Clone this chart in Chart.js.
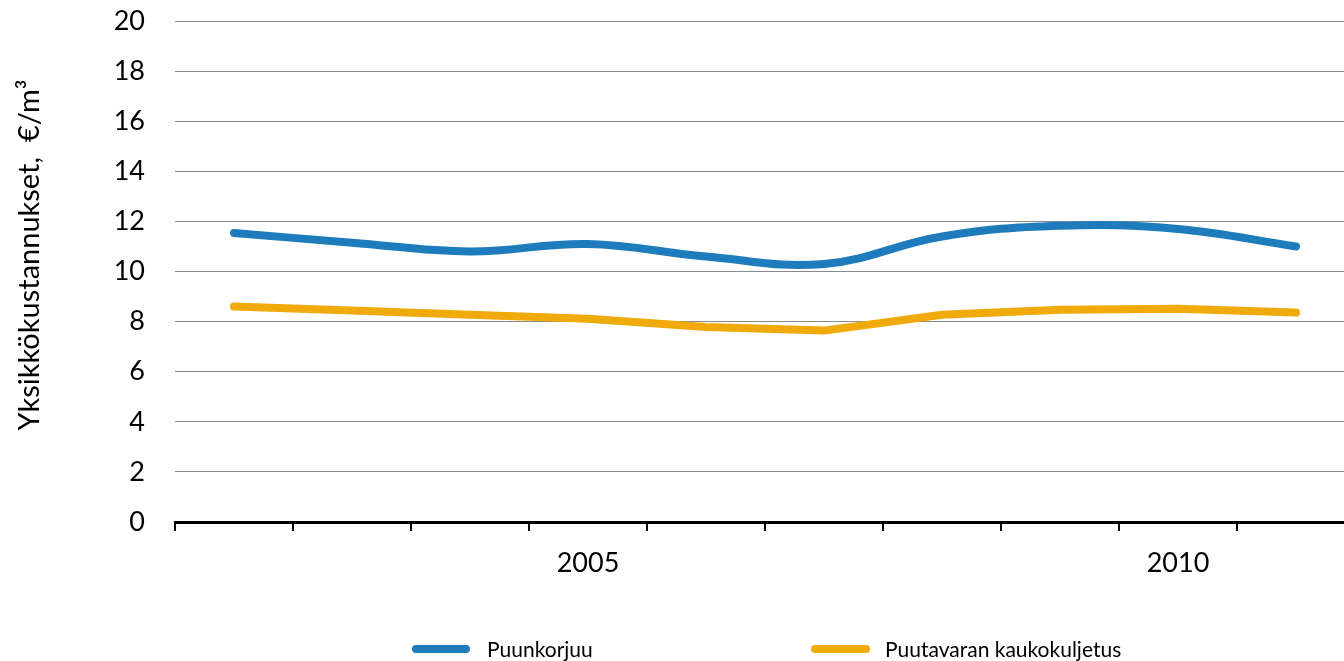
<!DOCTYPE html>
<html>
<head>
<meta charset="utf-8">
<script src="https://cdn.jsdelivr.net/npm/chart.js@4.4.1/dist/chart.umd.min.js"></script>
<style>
  html, body { margin: 0; padding: 0; background: #fff; overflow: hidden; }
  #wrap { width: 1355px; height: 661px; position: relative; }
</style>
</head>
<body>
<div id="wrap"><canvas id="c"></canvas></div>
<script>
const years = ['2002','2003','2004','2005','2006','2007','2008','2009','2010','2011'];
const shownYearLabels = ['2005','2010'];
const puunkorjuu = [11.54, 11.15, 10.80, 11.10, 10.60, 10.30, 11.40, 11.83, 11.70, 11.00];
const kaukokuljetus = [8.60, 8.44, 8.27, 8.11, 7.78, 7.64, 8.27, 8.47, 8.51, 8.36];
const seriesNames = ['Puunkorjuu', 'Puutavaran kaukokuljetus'];
const yTitle = 'Yksikkökustannukset,  €/m³';
const yTicks = { min: 0, max: 20, step: 2 };

const FONT = 'Lato, "Open Sans", sans-serif';
const BLUE = '#1E7CBC';
const ORANGE = '#F0AA0C';

const customDecor = {
  id: 'customDecor',
  afterDraw(chart) {
    const ctx = chart.ctx;
    // Y title
    ctx.save();
    ctx.translate(39, 255);
    ctx.rotate(-Math.PI / 2);
    ctx.fillStyle = '#000';
    ctx.font = '29px ' + FONT;
    ctx.textAlign = 'center';
    ctx.textBaseline = 'alphabetic';
    ctx.fillText(yTitle, 0, 0);
    ctx.restore();
    // Legend
    const items = [
      { x0: 412, x1: 470, tx: 487 },
      { x0: 811, x1: 870, tx: 885 }
    ];
    const ly = 649;
    chart.data.datasets.forEach((ds, i) => {
      const it = items[i];
      ctx.save();
      ctx.strokeStyle = ds.borderColor;
      ctx.lineWidth = 8;
      ctx.lineCap = 'round';
      ctx.beginPath();
      ctx.moveTo(it.x0 + 4, ly);
      ctx.lineTo(it.x1 - 4, ly);
      ctx.stroke();
      ctx.fillStyle = '#000';
      ctx.font = '21px ' + FONT;
      ctx.textAlign = 'left';
      ctx.textBaseline = 'middle';
      ctx.fillText(ds.label, it.tx, ly + 1);
      ctx.restore();
    });
  }
};

new Chart(document.getElementById('c'), {
  type: 'line',
  data: {
    labels: years,
    datasets: [
      {
        label: seriesNames[0],
        data: puunkorjuu,
        borderColor: BLUE,
        backgroundColor: BLUE,
        borderWidth: 8,
        tension: 0.4,
        pointRadius: 0,
        borderCapStyle: 'round',
        borderJoinStyle: 'round'
      },
      {
        label: seriesNames[1],
        data: kaukokuljetus,
        borderColor: ORANGE,
        backgroundColor: ORANGE,
        borderWidth: 8,
        tension: 0,
        pointRadius: 0,
        borderCapStyle: 'round',
        borderJoinStyle: 'round'
      }
    ]
  },
  options: {
    responsive: true,
    maintainAspectRatio: false,
    animation: false,
    layout: { padding: { top: 21, right: 0, bottom: 0, left: 0 } },
    plugins: { legend: { display: false }, tooltip: { enabled: false } },
    scales: {
      x: {
        offset: true,
        grid: {
          offset: true,
          drawOnChartArea: false,
          drawTicks: true,
          tickLength: 9,
          color: '#000',
          lineWidth: 2
        },
        border: { display: true, color: '#000', width: 3 },
        ticks: {
          autoSkip: false,
          maxRotation: 0,
          padding: 16,
          color: '#000',
          font: { family: FONT, size: 27 },
          callback: function(v, i) {
            const l = this.getLabelForValue(v);
            return shownYearLabels.includes(l) ? l : '';
          }
        },
        afterFit(scale) { scale.height = 139; scale.paddingLeft = 0; scale.paddingRight = 0; }
      },
      y: {
        min: yTicks.min,
        max: yTicks.max,
        border: { display: false },
        grid: { color: '#8a8a8a', lineWidth: 1, drawTicks: false },
        ticks: {
          stepSize: yTicks.step,
          padding: 30,
          color: '#000',
          font: { family: FONT, size: 27 }
        },
        afterFit(scale) { scale.width = 175; scale.paddingTop = 0; scale.paddingBottom = 0; }
      }
    }
  },
  plugins: [customDecor]
});
</script>
</body>
</html>
